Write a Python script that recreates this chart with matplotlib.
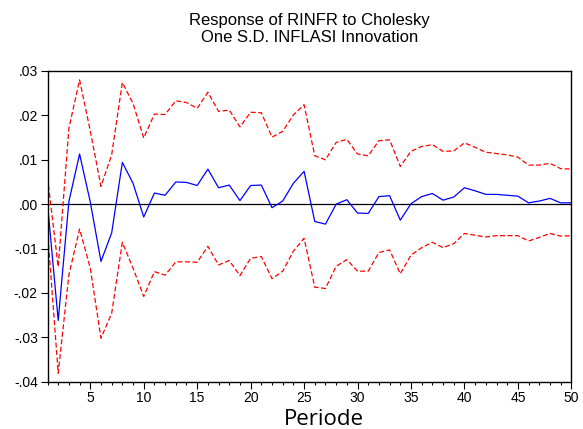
import matplotlib
matplotlib.use("Agg")
import matplotlib.pyplot as plt
from matplotlib.ticker import MultipleLocator, FuncFormatter

periode = list(range(1, 51))

# respon RINFR terhadap guncangan INFLASI
respon = [0.0, -0.0262, 0.0006, 0.0113, 0.0005, -0.0129, -0.0065, 0.0094, 0.0047, -0.0029,
          0.0025, 0.0020, 0.0050, 0.0049, 0.0042, 0.0079, 0.0037, 0.0043, 0.0008, 0.0042,
          0.0043, -0.0008, 0.0007, 0.0047, 0.0074, -0.0039, -0.0045, 0.0000, 0.0010, -0.0020,
          -0.0021, 0.0017, 0.0019, -0.0036, 0.0001, 0.0017, 0.0024, 0.0009, 0.0016, 0.0037,
          0.0030, 0.0022, 0.0022, 0.0020, 0.0018, 0.0003, 0.0007, 0.0013, 0.0003, 0.0003]

batas_atas = [0.0059, -0.0141, 0.0171, 0.0280, 0.0165, 0.0040, 0.0111, 0.0274, 0.0227, 0.0149,
              0.0203, 0.0202, 0.0233, 0.0229, 0.0216, 0.0252, 0.0209, 0.0212, 0.0174, 0.0207,
              0.0206, 0.0151, 0.0164, 0.0201, 0.0224, 0.0109, 0.0100, 0.0139, 0.0146, 0.0113,
              0.0109, 0.0143, 0.0145, 0.0085, 0.0119, 0.0130, 0.0134, 0.0119, 0.0120, 0.0138,
              0.0128, 0.0117, 0.0114, 0.0111, 0.0106, 0.0088, 0.0088, 0.0092, 0.0080, 0.0079]

batas_bawah = [-0.0059, -0.0381, -0.0159, -0.0056, -0.0144, -0.0302, -0.0246, -0.0086, -0.0144, -0.0208,
               -0.0152, -0.0160, -0.0130, -0.0130, -0.0131, -0.0095, -0.0137, -0.0127, -0.0161, -0.0122,
               -0.0118, -0.0168, -0.0151, -0.0106, -0.0077, -0.0187, -0.0190, -0.0140, -0.0125, -0.0151,
               -0.0151, -0.0109, -0.0103, -0.0157, -0.0115, -0.0098, -0.0086, -0.0098, -0.0089, -0.0066,
               -0.0070, -0.0074, -0.0071, -0.0071, -0.0071, -0.0083, -0.0075, -0.0066, -0.0072, -0.0071]

plt.rcParams['font.family'] = ['Liberation Sans', 'DejaVu Sans']

fig = plt.figure(figsize=(5.83, 4.29), dpi=100)
ax = fig.add_axes([0.0815, 0.1103, 0.8985, 0.7242])

ax.axhline(0, color='black', linewidth=0.9)
ax.plot(periode, batas_atas, color='red', linestyle=(0, (4, 2)), linewidth=0.9)
ax.plot(periode, batas_bawah, color='red', linestyle=(0, (4, 2)), linewidth=0.9)
ax.plot(periode, respon, color='blue', linewidth=0.9)

ax.set_xlim(1, 50)
ax.set_ylim(-0.04, 0.03)
ax.xaxis.set_major_locator(MultipleLocator(5))
ax.xaxis.set_minor_locator(MultipleLocator(1))
ax.yaxis.set_major_locator(MultipleLocator(0.01))

def fmt(v, pos):
    s = '%.2f' % v
    if s.startswith('-0'):
        s = '-' + s[2:]
    elif s.startswith('0'):
        s = s[1:]
    return s

ax.yaxis.set_major_formatter(FuncFormatter(fmt))
ax.tick_params(axis='both', labelsize=10, direction='out', length=5, width=0.8, pad=2)
ax.tick_params(axis='x', which='minor', length=2.5, width=0.8)
for s in ax.spines.values():
    s.set_linewidth(1.0)

ax.set_title('Response of RINFR to Cholesky\nOne S.D. INFLASI Innovation', fontsize=12, pad=21, linespacing=1.15)
ax.set_xlabel('Periode', fontsize=16, family=['Open Sans', 'DejaVu Sans'], va='baseline')
ax.xaxis.set_label_coords(0.528, -0.138)

fig.savefig('out.png', dpi=100)
